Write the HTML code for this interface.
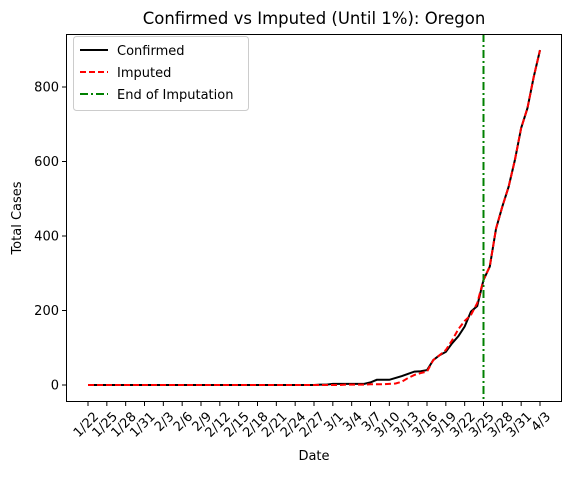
<!DOCTYPE html>
<html><head><meta charset="utf-8"><style>
body{margin:0;background:#fff}
svg{font-family:"DejaVu Sans","Liberation Sans",sans-serif}
</style></head><body>
<svg width="571" height="473" viewBox="0 0 571 473">
<text x="314" y="24" text-anchor="middle" font-size="16.5">Confirmed vs Imputed (Until 1%): Oregon</text>
<g id="plot"></g>
<rect x="66.5" y="34.5" width="495" height="367" fill="none" stroke="#000" stroke-width="1"/>
<text x="314" y="460" text-anchor="middle" font-size="13">Date</text>
<text transform="translate(21,218) rotate(-90)" text-anchor="middle" font-size="13">Total Cases</text>
<g>
<rect x="73.5" y="36.5" width="175" height="74" rx="3" fill="#fff" fill-opacity="0.8" stroke="#ccc"/>
<line x1="80" y1="50" x2="108" y2="50" stroke="#000" stroke-width="2"/>
<text x="117" y="55" font-size="13">Confirmed</text>
<line x1="80" y1="72" x2="108" y2="72" stroke="red" stroke-width="2" stroke-dasharray="6,3"/>
<text x="117" y="77" font-size="13">Imputed</text>
<line x1="80" y1="94" x2="108" y2="94" stroke="green" stroke-width="2" stroke-dasharray="8,3,2,3"/>
<text x="117" y="99" font-size="13">End of Imputation</text>
</g>
</svg>
<script>
const startMonth=1, startDay=22, nDays=73;
const confirmed=[0,0,0,0,0,0,0,0,0,0,0,0,0,0,0,0,0,0,0,0,0,0,0,0,0,0,0,0,0,0,0,0,0,0,0,0,0,1,1,3,3,3,3,3,3,7,14,14,14,19,24,30,36,37,40,67,80,89,112,131,157,197,212,282,318,420,479,532,604,690,743,827,899];
const imputed=[0,0,0,0,0,0,0,0,0,0,0,0,0,0,0,0,0,0,0,0,0,0,0,0,0,0,0,0,0,0,0,0,0,0,0,0,0,0,0,0,0,1,1,1,1,2,2,2,3,4,9,19,27,32,36,67,80,94,120,150,172,188,220,282,318,420,479,532,604,690,743,827,899];
const yTicks=[0,200,400,600,800];
const endIdx=63;
const NS="http://www.w3.org/2000/svg";
const X=i=>88+i*(540-88)/72;
const Y=v=>385-v*(298/800);
const g=document.getElementById('plot');
function mk(t,a){const e=document.createElementNS(NS,t);for(const k in a)e.setAttribute(k,a[k]);g.appendChild(e);return e;}
const dl=[31,29,31,30];
function label(i){let m=startMonth,d=startDay+i;while(d>dl[m-1]){d-=dl[m-1];m++;}return m+'/'+d;}
for(let i=0;i<nDays;i+=3){
 const t=mk('line',{x1:X(i),x2:X(i),y1:402,y2:406,stroke:'#000'});
 
 
 const tx=mk('text',{transform:`translate(${X(i)+5},${411}) rotate(-45)`,'text-anchor':'end','font-size':'13','dominant-baseline':'hanging'});
 tx.textContent=label(i);
 
 
}
yTicks.forEach(v=>{
 const t=mk('line',{x1:62,x2:66,y1:Y(v),y2:Y(v),stroke:'#000'});
 
 
 const tx=mk('text',{x:59,y:Y(v)+4.5,'text-anchor':'end','font-size':'13'});
 tx.textContent=v;
 
 
});
const pc=mk('polyline',{points:confirmed.map((v,i)=>X(i)+','+Y(v)).join(' '),fill:'none',stroke:'#000','stroke-width':2});


const pi=mk('polyline',{points:imputed.map((v,i)=>X(i)+','+Y(v)).join(' '),fill:'none',stroke:'red','stroke-width':2,'stroke-dasharray':'6,3'});


const vl=mk('line',{x1:X(endIdx),x2:X(endIdx),y1:34,y2:402,stroke:'green','stroke-width':2,'stroke-dasharray':'8,3,2,3'});


</script>
</body></html>
